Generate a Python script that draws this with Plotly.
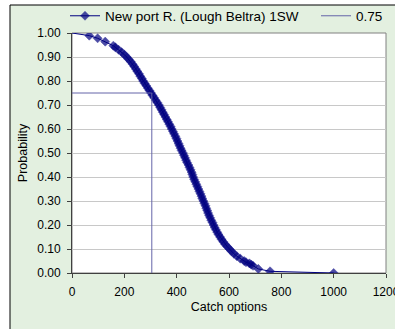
import plotly.graph_objects as go

# Data
catch_options = [0, 66, 98, 127, 158, 166, 178, 190, 200, 209, 217, 225, 232, 238, 244,
                 250, 256, 261, 267, 272, 278, 284, 290, 296, 302, 308, 314, 320, 326, 332,
                 337, 342, 347, 352, 357, 362, 367, 372, 377, 381, 386, 390, 395, 399, 403,
                 407, 411, 415, 419, 424, 428, 432, 436, 440, 445, 449, 453, 457, 460, 463,
                 467, 471, 475, 479, 483, 487, 491, 495, 498, 502, 506, 510, 513, 517, 520,
                 524, 528, 532, 537, 541, 545, 550, 555, 560, 566, 572, 578, 585, 593, 602,
                 610, 619, 630, 643, 658, 665, 678, 685, 692, 712, 757, 1000]
probability = [1.00, 0.989, 0.978, 0.964, 0.947, 0.94, 0.93, 0.92, 0.91, 0.90, 0.89, 0.88,
               0.87, 0.86, 0.85, 0.84, 0.83, 0.82, 0.81, 0.80, 0.79, 0.78, 0.77, 0.76, 0.75,
               0.74, 0.73, 0.72, 0.71, 0.70, 0.69, 0.68, 0.67, 0.66, 0.65, 0.64, 0.63, 0.62,
               0.61, 0.60, 0.59, 0.58, 0.57, 0.56, 0.55, 0.54, 0.53, 0.52, 0.51, 0.50, 0.49,
               0.48, 0.47, 0.46, 0.45, 0.44, 0.43, 0.42, 0.41, 0.40, 0.39, 0.38, 0.37, 0.36,
               0.35, 0.34, 0.33, 0.32, 0.31, 0.30, 0.29, 0.28, 0.27, 0.26, 0.25, 0.24, 0.23,
               0.22, 0.21, 0.20, 0.19, 0.18, 0.17, 0.16, 0.15, 0.14, 0.13, 0.12, 0.11, 0.10,
               0.09, 0.08, 0.07, 0.06, 0.05, 0.045, 0.04, 0.035, 0.03, 0.017, 0.007, 0.0]
threshold_x = [0, 305, 305]
threshold_y = [0.75, 0.75, 0.0]
series_name = "New port R. (Lough Beltra) 1SW"
threshold_name = "0.75"
x_ticks = [0, 200, 400, 600, 800, 1000, 1200]
y_ticks = [0.0, 0.1, 0.2, 0.3, 0.4, 0.5, 0.6, 0.7, 0.8, 0.9, 1.0]

FONT = "Liberation Sans, Arial, sans-serif"
NAVY = "#000080"
GREEN = "#E3F0E0"

marker_sizes = [0] + [7] * (len(catch_options) - 1)

fig = go.Figure()
fig.add_trace(go.Scatter(
    x=catch_options, y=probability, name=series_name, mode="lines+markers",
    line=dict(color=NAVY, width=1), legend="legend",
    marker=dict(symbol="diamond", size=marker_sizes, color=NAVY, line=dict(width=0.5, color=NAVY)),
))
fig.add_trace(go.Scatter(
    x=threshold_x, y=threshold_y, name=threshold_name, mode="lines",
    line=dict(color="#6464A8", width=1), legend="legend2",
))

W, H = 395, 329
L, R, T, B = 72, 9, 33, 56
pw, ph = W - L - R, H - T - B
def px_x(p):
    return (p - L) / pw
def px_y(p):
    return (H - B - p) / ph

fx = px_x(10)
fy = px_y(5)
shapes = [
    dict(type="rect", xref="paper", yref="paper", x0=px_x(-20), x1=fx, y0=px_y(360), y1=px_y(-20),
         fillcolor="white", line=dict(width=0), layer="below"),
    dict(type="rect", xref="paper", yref="paper", x0=px_x(-20), x1=px_x(420), y0=fy, y1=px_y(-20),
         fillcolor="white", line=dict(width=0), layer="below"),
    dict(type="line", xref="paper", yref="paper", x0=fx, x1=fx, y0=px_y(360), y1=fy,
         line=dict(color="black", width=1)),
    dict(type="line", xref="paper", yref="paper", x0=fx, x1=px_x(420), y0=fy, y1=fy,
         line=dict(color="black", width=1)),
    dict(type="rect", xref="paper", yref="paper", x0=0, x1=1, y0=0, y1=1,
         line=dict(color="#808080", width=1), layer="below"),
]

legend_common = dict(orientation="h", xref="container", yref="container", yanchor="middle",
                     bgcolor="rgba(0,0,0,0)", font=dict(size=13.5), itemwidth=30)

fig.update_layout(
    width=W, height=H,
    margin=dict(l=L, r=R, t=T, b=B, pad=0, autoexpand=False),
    paper_bgcolor=GREEN, plot_bgcolor="white",
    font=dict(family=FONT, size=12, color="black"),
    showlegend=True,
    legend=dict(x=65 / W, xanchor="left", y=1 - 16 / H, **legend_common),
    legend2=dict(x=316 / W, xanchor="left", y=1 - 16 / H, **legend_common),
    shapes=shapes,
    xaxis=dict(range=[0, 1200], tickvals=x_ticks, ticktext=[str(v) for v in x_ticks],
               showgrid=False, zeroline=False, showline=True, linecolor="#404040",
               linewidth=1, ticks="outside", ticklen=4, tickcolor="#404040",
               automargin=False, ticklabeloverflow="allow", ticklabelstandoff=4,
               title=dict(text="Catch options", font=dict(size=12.5), standoff=3)),
    yaxis=dict(range=[0, 1], tickvals=y_ticks, ticktext=[f"{v:.2f}" for v in y_ticks],
               showgrid=True, gridcolor="#C8C8C8", gridwidth=1, zeroline=False,
               showline=True, linecolor="#404040", linewidth=1, ticks="outside",
               ticklen=4, tickcolor="#404040", automargin=False, ticklabeloverflow="allow",
               ticklabelstandoff=4,
               title=dict(text="Probability", font=dict(size=12.5), standoff=6)),
)

fig.write_html("out.html", config={"displayModeBar": False},
               post_script="document.body.style.margin='0px';")
